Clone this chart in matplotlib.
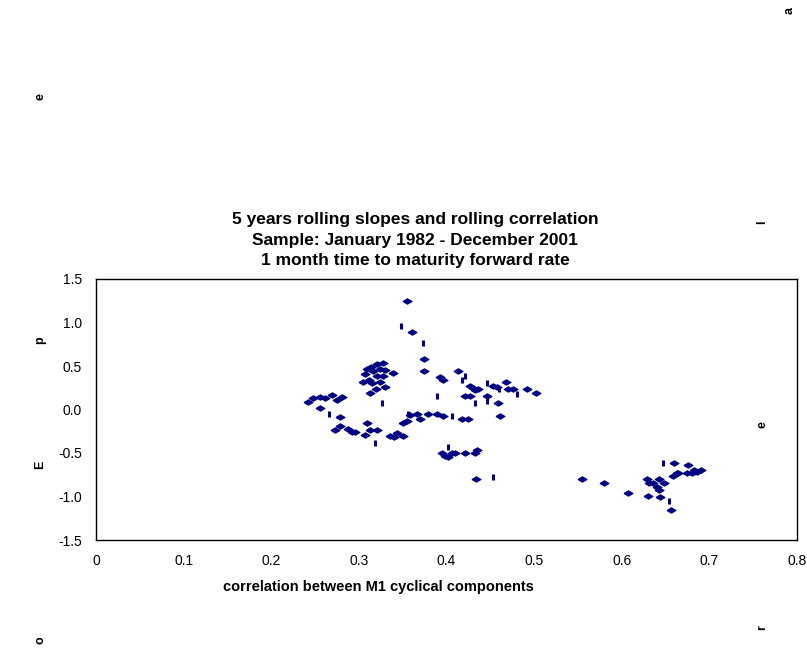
import matplotlib.pyplot as plt
import numpy as np

plt.rcParams['font.family'] = ['Liberation Sans', 'DejaVu Sans']

# rolling correlation (x) and rolling slope (y), diamond markers
corr = [0.355, 0.361, 0.374, 0.374,
        0.242, 0.248, 0.256, 0.261, 0.269, 0.275, 0.281, 0.256, 0.279,
        0.273, 0.279, 0.288, 0.292, 0.296, 0.309, 0.313, 0.307, 0.321,
        0.336, 0.340, 0.344, 0.350, 0.355, 0.350,
        0.358, 0.366, 0.370, 0.379, 0.389, 0.396, 0.418, 0.424,
        0.309, 0.314, 0.321, 0.328, 0.307, 0.316, 0.324, 0.330, 0.312,
        0.321, 0.328, 0.305, 0.315, 0.324, 0.319, 0.313, 0.330, 0.339,
        0.413, 0.393, 0.396, 0.427, 0.430, 0.436, 0.433, 0.453, 0.458,
        0.468, 0.470, 0.476, 0.421, 0.427, 0.446, 0.459, 0.461, 0.492, 0.502,
        0.395, 0.398, 0.402, 0.406, 0.410, 0.421, 0.433, 0.435, 0.434,
        0.555, 0.580, 0.607, 0.630, 0.644, 0.656, 0.629, 0.631, 0.636,
        0.642, 0.640, 0.642, 0.648, 0.660, 0.659, 0.663, 0.664, 0.676,
        0.675, 0.680, 0.683, 0.686, 0.691]
slope = [1.25, 0.89, 0.58, 0.44,
         0.09, 0.13, 0.14, 0.13, 0.17, 0.11, 0.14, 0.02, -0.09,
         -0.23, -0.19, -0.22, -0.26, -0.26, -0.16, -0.23, -0.29, -0.23,
         -0.30, -0.32, -0.27, -0.16, -0.13, -0.31,
         -0.06, -0.05, -0.11, -0.05, -0.05, -0.07, -0.11, -0.11,
         0.46, 0.49, 0.52, 0.53, 0.41, 0.44, 0.47, 0.45, 0.34,
         0.38, 0.38, 0.32, 0.30, 0.32, 0.24, 0.19, 0.26, 0.42,
         0.44, 0.37, 0.34, 0.27, 0.25, 0.24, 0.22, 0.27, 0.26,
         0.32, 0.23, 0.23, 0.16, 0.16, 0.15, 0.07, -0.07, 0.23, 0.19,
         -0.50, -0.53, -0.55, -0.50, -0.50, -0.50, -0.50, -0.47, -0.80,
         -0.80, -0.85, -0.96, -0.99, -1.01, -1.15, -0.80, -0.84, -0.85,
         -0.80, -0.89, -0.92, -0.85, -0.62, -0.76, -0.73, -0.73, -0.64,
         -0.73, -0.73, -0.70, -0.72, -0.69]

# points drawn as short vertical dashes
corr_d = [0.348, 0.373, 0.266, 0.318, 0.356, 0.326, 0.406, 0.433, 0.418,
          0.421, 0.446, 0.460, 0.481, 0.446, 0.389, 0.402, 0.453, 0.647, 0.654]
slope_d = [0.96, 0.76, -0.05, -0.38, -0.05, 0.07, -0.08, 0.07, 0.34,
           0.39, 0.30, 0.23, 0.18, 0.10, 0.16, -0.43, -0.78, -0.62, -1.05]

title_lines = ['5 years rolling slopes and rolling correlation',
               'Sample: January 1982 - December 2001',
               '1 month time to maturity forward rate']
xticks = [0, 0.1, 0.2, 0.3, 0.4, 0.5, 0.6, 0.7, 0.8]
xticklabels = ['0', '0.1', '0.2', '0.3', '0.4', '0.5', '0.6', '0.7', '0.8']
yticks = [-1.5, -1.0, -0.5, 0.0, 0.5, 1.0, 1.5]

# stray rotated letters left around the page
stray = [('e', 40, 97), ('a', 790, 10), ('l', 762, 222), ('p', 40, 340),
         ('E', 40, 465), ('e', 762, 425), ('o', 40, 640), ('r', 762, 628)]

fig = plt.figure(figsize=(8.07, 6.48), dpi=100)
ax = fig.add_axes([96 / 807, 1 - 540 / 648, 701 / 807, 261 / 648])

navy = '#000080'
diamond = [(-1, 0), (0, 0.6), (1, 0), (0, -0.6), (-1, 0)]
ax.plot(corr, slope, linestyle='none', marker=diamond, markersize=6.5,
        color=navy, markeredgewidth=0.8)
ax.plot(corr_d, slope_d, linestyle='none', marker='|', markersize=5,
        color=navy, markeredgewidth=2.2)

ax.set_xlim(0, 0.8)
ax.set_ylim(-1.5, 1.5)
ax.set_xticks(xticks)
ax.set_xticklabels(xticklabels)
ax.set_yticks(yticks)
ax.set_yticklabels(['%.1f' % v for v in yticks])
ax.tick_params(labelsize=10, length=0, pad=10)
for s in ax.spines.values():
    s.set_linewidth(1)
    s.set_color('black')

ax.set_xlabel('correlation between M1 cyclical components', fontsize=10.5,
              fontweight='bold')
ax.xaxis.set_label_coords((378 - 96) / 701, -0.155)

for i, line in enumerate(title_lines):
    fig.text(415 / 807, 1 - (219 + 21 * i) / 648, line, ha='center',
             va='center', fontsize=12.5, fontweight='bold')

for ch, px, py in stray:
    fig.text(px / 807, 1 - py / 648, ch, ha='center', va='center',
             fontsize=9, fontweight='bold', rotation=90)

fig.savefig('out.png', dpi=100)
